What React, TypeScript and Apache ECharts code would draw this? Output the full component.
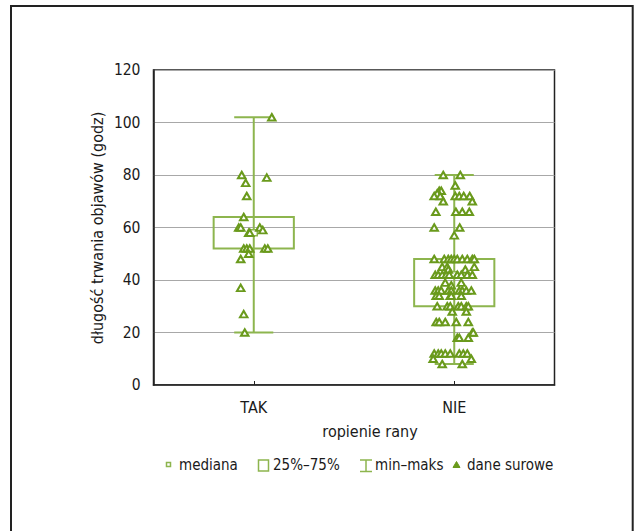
import React, { useEffect, useRef } from "react";
import * as echarts from "echarts";

const categories = ["TAK", "NIE"];
const yTicksMin = 0;
const yTicksMax = 120;
const yTickStep = 20;

// box statistics per category
const boxMin = [20, 8];
const boxQ1 = [52, 30];
const boxMedian = [58, 42];
const boxQ3 = [64, 48];
const boxMax = [102, 80];

// raw data (hours) with horizontal jitter (fraction of category band)
const takValues = [102, 80, 79, 77, 72, 64, 60, 60, 60, 59, 58, 58, 52, 52, 52, 52, 52, 50, 48, 37, 27, 20];
const takJitter = [0.09, -0.06, 0.065, -0.04, -0.035, -0.05, -0.075, -0.065, 0.03, 0.045, -0.025, -0.02, -0.05, -0.035, -0.02, 0.055, 0.07, -0.025, -0.065, -0.065, -0.05, -0.045];

const nieValues = [
  80, 80, 76, 74, 74, 73, 72, 72, 72, 72, 72, 72, 70, 70, 66, 66, 66, 66, 60, 60, 57,
  48, 48, 48, 48, 48, 48, 48, 48, 48, 48, 45, 45, 45, 44, 44,
  42, 42, 42, 42, 42, 42, 42, 42, 42, 39, 39, 38,
  36, 36, 36, 36, 36, 36, 36, 36, 36, 34, 34, 34, 34, 34,
  30, 30, 30, 30, 30, 30, 30, 28, 28, 24, 24, 24, 24, 24, 20, 20, 18, 18, 18,
  12, 12, 12, 12, 12, 12, 12, 12, 10, 10, 8, 8,
];
const nieJitter = [
  -0.055, 0.03, 0.005, -0.075, -0.065, -0.085, -0.1, -0.07, 0.005, 0.025, 0.047, 0.077, -0.055, 0.09, -0.092, 0.008, 0.04, 0.075, -0.1, 0.027, 0,
  -0.1, -0.05, -0.03, -0.015, 0, 0.015, 0.04, 0.065, 0.09, 0.1, -0.06, 0.1, -0.035, -0.03, 0.055,
  -0.095, -0.08, -0.06, -0.04, -0.025, 0.015, 0.035, 0.065, 0.09, 0.035, -0.045, -0.015,
  -0.095, -0.08, -0.065, -0.03, -0.015, 0.025, 0.04, 0.06, 0.085, -0.09, -0.075, -0.02, -0.015, 0.035,
  -0.085, -0.035, -0.02, 0.02, 0.035, 0.06, 0.07, -0.01, 0.06, -0.09, -0.075, -0.045, 0.01, 0.07, 0.09, 0.095, 0.015, 0.025, 0.07,
  -0.1, -0.08, -0.065, -0.045, -0.02, 0.025, 0.045, 0.065, -0.105, 0.085, -0.06, 0.04,
];

const legendLabels = ["mediana", "25%\u201375%", "min\u2013maks", "dane surowe"];
const xAxisName = "ropienie rany";
const yAxisName = "d\u0142ugo\u015b\u0107 trwania objaw\u00f3w (godz)";

const FONT = "'DejaVu Sans Condensed', 'Liberation Sans Narrow', 'Open Sans', sans-serif";
const BOX_COLOR = "#8db54e";
const PT_COLOR = "#6a9a1c";
const TEXT_COLOR = "#1a1a1a";

export default function App() {
  const ref = useRef<HTMLDivElement>(null);
  useEffect(() => {
    if (!ref.current) return;
    const chart = echarts.init(ref.current, undefined, { renderer: "svg" });

    const boxData = categories.map((_, i) => [i, boxMin[i], boxQ1[i], boxMedian[i], boxQ3[i], boxMax[i]]);
    const rawData: number[][] = [];
    takValues.forEach((v, i) => rawData.push([0.5 + takJitter[i], v]));
    nieValues.forEach((v, i) => rawData.push([1.5 + nieJitter[i], v]));

    const option: any = {
      animation: false,
      backgroundColor: "#fff",
      textStyle: { fontFamily: FONT },
      grid: {
        left: 153.5,
        right: 87.5,
        top: 70,
        bottom: 146,
        show: true,
        borderColor: "#222",
        borderWidth: 1.5,
        backgroundColor: "transparent",
      },
      xAxis: [
        {
          type: "category",
          data: categories,
          boundaryGap: true,
          axisLine: { lineStyle: { color: "#222", width: 1.5 } },
          axisTick: { show: true, inside: true, alignWithLabel: true, length: 4, lineStyle: { color: "#222" } },
          axisLabel: { color: TEXT_COLOR, fontSize: 16, margin: 14, fontFamily: FONT },
          splitLine: { show: false },
        },
        {
          type: "value",
          min: 0,
          max: 2,
          show: false,
          splitLine: { show: false },
        },
      ],
      yAxis: {
        type: "value",
        min: yTicksMin,
        max: yTicksMax,
        interval: yTickStep,
        axisLine: { show: true, lineStyle: { color: "#222", width: 1.5 } },
        axisTick: { show: false },
        axisLabel: { color: TEXT_COLOR, fontSize: 15.5, margin: 13, fontFamily: FONT },
        splitLine: { show: true, lineStyle: { color: "#a8a8a8", width: 1 } },
      },
      graphic: [
        {
          type: "rect",
          shape: { x: 11, y: 6, width: 621.7, height: 600 },
          style: { fill: "none", stroke: "#222", lineWidth: 2 },
          silent: true,
        },
        {
          type: "text",
          x: 97.5,
          y: 228,
          rotation: Math.PI / 2,
          style: { text: yAxisName, fill: TEXT_COLOR, font: `16px ${FONT}`, textAlign: "center", textVerticalAlign: "middle" },
        },
        {
          type: "text",
          x: 370,
          y: 431,
          style: { text: xAxisName, fill: TEXT_COLOR, font: `16px ${FONT}`, textAlign: "center", textVerticalAlign: "middle" },
        },
        // legend
        {
          type: "rect",
          shape: { x: 166.5, y: 462.5, width: 4, height: 4 },
          style: { fill: "#fff", stroke: BOX_COLOR, lineWidth: 1.5 },
        },
        {
          type: "text",
          x: 179,
          y: 465,
          style: { text: legendLabels[0], fill: TEXT_COLOR, font: `15px ${FONT}`, textAlign: "left", textVerticalAlign: "middle" },
        },
        {
          type: "rect",
          shape: { x: 258.5, y: 460, width: 10, height: 11 },
          style: { fill: "#fff", stroke: BOX_COLOR, lineWidth: 1.5 },
        },
        {
          type: "text",
          x: 273,
          y: 465,
          style: { text: legendLabels[1], fill: TEXT_COLOR, font: `15px ${FONT}`, textAlign: "left", textVerticalAlign: "middle" },
        },
        {
          type: "line",
          shape: { x1: 360, y1: 460, x2: 372, y2: 460 },
          style: { stroke: BOX_COLOR, lineWidth: 1.5 },
        },
        {
          type: "line",
          shape: { x1: 360, y1: 471.5, x2: 372, y2: 471.5 },
          style: { stroke: BOX_COLOR, lineWidth: 1.5 },
        },
        {
          type: "line",
          shape: { x1: 366, y1: 460, x2: 366, y2: 471.5 },
          style: { stroke: BOX_COLOR, lineWidth: 1.5 },
        },
        {
          type: "text",
          x: 375,
          y: 465,
          style: { text: legendLabels[2], fill: TEXT_COLOR, font: `15px ${FONT}`, textAlign: "left", textVerticalAlign: "middle" },
        },
        {
          type: "polygon",
          shape: { points: [[456.5, 461.5], [453, 467.5], [460, 467.5]] },
          style: { fill: PT_COLOR, stroke: PT_COLOR, lineWidth: 1 },
        },
        {
          type: "text",
          x: 467,
          y: 465,
          style: { text: legendLabels[3], fill: TEXT_COLOR, font: `15px ${FONT}`, textAlign: "left", textVerticalAlign: "middle" },
        },
      ],
      series: [
        {
          type: "custom",
          name: "box",
          xAxisIndex: 0,
          yAxisIndex: 0,
          data: boxData,
          encode: { x: 0, y: [1, 2, 3, 4, 5] },
          z: 2,
          renderItem: (params: any, api: any) => {
            const idx = api.value(0);
            const pMin = api.coord([idx, api.value(1)]);
            const pQ1 = api.coord([idx, api.value(2)]);
            const pMed = api.coord([idx, api.value(3)]);
            const pQ3 = api.coord([idx, api.value(4)]);
            const pMax = api.coord([idx, api.value(5)]);
            const band = api.size([1, 0])[0];
            const boxW = band * 0.4;
            const capW = band * 0.195;
            const cx = pMin[0];
            const lineStyle = { stroke: BOX_COLOR, lineWidth: 2, fill: "none" };
            return {
              type: "group",
              children: [
                { type: "line", shape: { x1: cx, y1: pMin[1], x2: cx, y2: pMax[1] }, style: lineStyle },
                { type: "line", shape: { x1: cx - capW / 2, y1: pMin[1], x2: cx + capW / 2, y2: pMin[1] }, style: lineStyle },
                { type: "line", shape: { x1: cx - capW / 2, y1: pMax[1], x2: cx + capW / 2, y2: pMax[1] }, style: lineStyle },
                {
                  type: "rect",
                  shape: { x: cx - boxW / 2, y: pQ3[1], width: boxW, height: pQ1[1] - pQ3[1] },
                  style: lineStyle,
                },
                {
                  type: "rect",
                  shape: { x: cx - 3.5, y: pMed[1] - 3, width: 7, height: 6 },
                  style: { stroke: BOX_COLOR, lineWidth: 1.5, fill: "#fff" },
                },
              ],
            };
          },
        },
        {
          type: "scatter",
          name: "dane surowe",
          xAxisIndex: 1,
          yAxisIndex: 0,
          data: rawData,
          symbol: "triangle",
          symbolSize: [7.5, 6.5],
          z: 3,
          itemStyle: { color: "#fff", borderColor: PT_COLOR, borderWidth: 2, opacity: 1 },
        },
      ],
    };
    chart.setOption(option);
    return () => chart.dispose();
  }, []);
  return <div ref={ref} style={{ position: "fixed", left: 0, top: 0, width: 642, height: 531 }} />;
}
